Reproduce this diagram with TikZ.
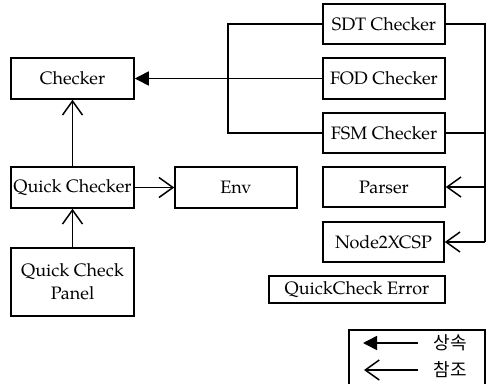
\documentclass[tikz,border=0pt]{standalone}
\usepackage{fontspec}
\setmainfont{TeX Gyre Pagella}
\newfontfamily\kfont{Noto Sans CJK KR}
\usetikzlibrary{arrows.meta}
\tikzset{
  box/.style={draw, line width=1.5pt, inner sep=0pt, align=center, font=\fontsize{18}{23}\selectfont},
  conn/.style={line width=1.5pt},
  ref/.style={conn, -{Straight Barb[length=14pt,width=20pt]}},
  inh/.style={conn, -{Triangle[length=14pt,width=14pt]}}
}
\begin{document}
\begin{tikzpicture}[x=1pt,y=-1pt]
\useasboundingbox (0,0) rectangle (489,383);
\node[box, minimum width=123pt, minimum height=41pt] (checker) at (72.5,78.5) {Checker};
\node[box, minimum width=122pt, minimum height=40pt] (sdt) at (384,24) {SDT Checker};
\node[box, minimum width=122pt, minimum height=41pt] (fod) at (384,78.5) {FOD Checker};
\node[box, minimum width=122pt, minimum height=40pt] (fsm) at (384,133) {FSM Checker};
\node[box, minimum width=122pt, minimum height=40pt] (parser) at (384,187) {Parser};
\node[box, minimum width=121pt, minimum height=40pt] (n2x) at (383.5,242) {Node2XCSP};
\node[box, minimum width=176pt, minimum height=27pt] (qce) at (357,289.5) {QuickCheck Error};
\node[box, minimum width=123pt, minimum height=41pt] (qc) at (72.5,187.5) {Quick Checker};
\node[box, minimum width=122pt, minimum height=41pt] (env) at (236,187.5) {Env};
\node[box, minimum width=123pt, minimum height=68pt] (panel) at (72.5,282) {Quick Check\\Panel};

\coordinate (bl1) at (228,24);
\coordinate (bl2) at (228,133);
\coordinate (br1) at (485,24);
\coordinate (br2) at (485,133);
\coordinate (br3) at (485,187);
\coordinate (br4) at (485,242);

\draw[conn] (sdt.west) -- (bl1) -- (bl2) -- (fsm.west);
\draw[inh] (fod.west) -- (checker.east);
\draw[conn] (sdt.east) -- (br1) -- (br4);
\draw[ref] (br4) -- (n2x.east);
\draw[conn] (fsm.east) -- (br2);
\draw[ref] (br3) -- (parser.east);
\draw[ref] (qc.north) -- (checker.south);
\draw[ref] (qc.east) -- (env.west);
\draw[ref] (panel.north) -- (qc.south);

% legend
\draw[conn] (485,386) -- (485,330) -- (349,330) -- (349,386);
\coordinate (l1a) at (418,343);
\coordinate (l1b) at (363,343);
\coordinate (l2a) at (418,370);
\coordinate (l2b) at (364,370);
\draw[inh] (l1a) -- (l1b);
\draw[ref] (l2a) -- (l2b);
\node[font=\kfont\fontsize{18}{18}\selectfont, inner sep=0pt] (t1) at (450,343) {상속};
\node[font=\kfont\fontsize{18}{18}\selectfont, inner sep=0pt] (t2) at (450,370) {참조};
\end{tikzpicture}
\end{document}
